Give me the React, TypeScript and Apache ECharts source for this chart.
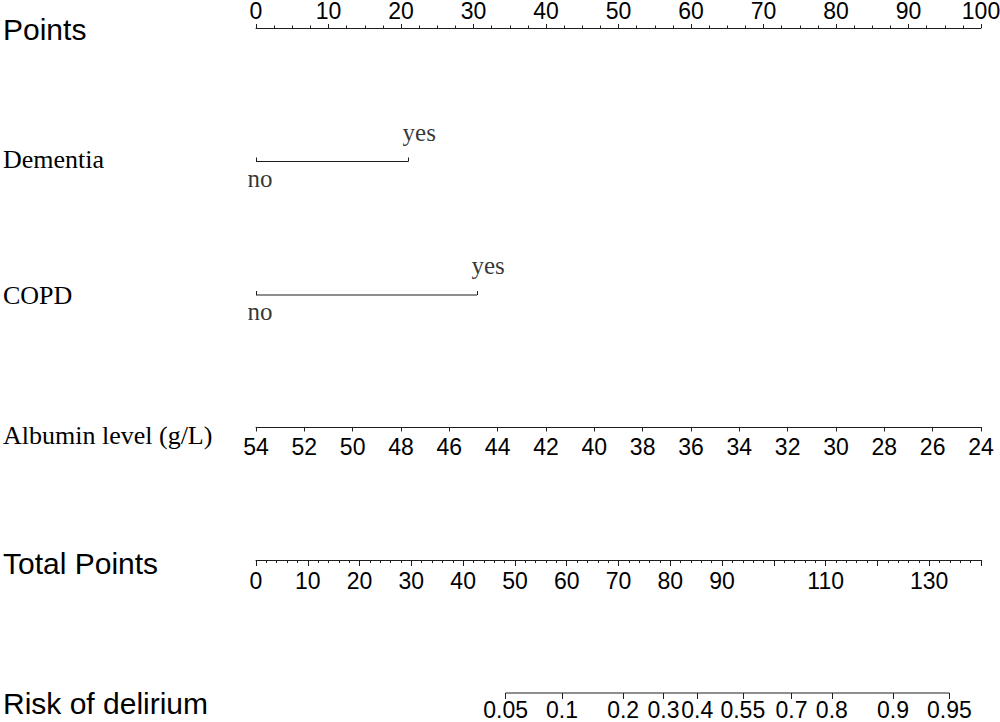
import React, { useEffect, useRef } from 'react';
import * as echarts from 'echarts';

// ---- data ----
const rowTitles = ['Points', 'Dementia', 'COPD', 'Albumin level (g/L)', 'Total Points', 'Risk of delirium'];
const pointsMin = 0;
const pointsMax = 100;
const pointsStep = 10;
const dementiaLevels = ['no', 'yes'];
const dementiaPoints = [0, 21];
const copdLevels = ['no', 'yes'];
const copdPoints = [0, 30.5];
const albuminMin = 24;
const albuminMax = 54;
const albuminStep = 2;
const totalMin = 0;
const totalMax = 140;
const totalStep = 10;
const totalHiddenLabels = [100, 120, 140];
const riskLabels = ['0.05', '0.1', '0.2', '0.3', '0.4', '0.55', '0.7', '0.8', '0.9', '0.95'];
const riskTotalPoints = [48.2, 59.1, 70.9, 78.7, 85.2, 94.0, 103.4, 111.2, 123.0, 133.9];

// ---- layout / style ----
const SANS = '"Liberation Sans", Arial, sans-serif';
const SERIF = '"Liberation Serif", "Times New Roman", serif';
const INK = '#1e1e1e';
const GRID_LEFT = 256;
const GRID_RIGHT = 19;
const H = 10;
const lineYs = [28, 161.5, 295, 427, 560, 693];
const titleYs = [29, 159, 295.5, 435, 563, 703];
const titleFonts = [
  { f: SANS, s: 30 },
  { f: SERIF, s: 26 },
  { f: SERIF, s: 26 },
  { f: SERIF, s: 26 },
  { f: SANS, s: 30 },
  { f: SANS, s: 30 },
];

const lineStyle = { color: INK, width: 1 };
const labelBase = { fontFamily: SANS, fontSize: 23, color: '#000', hideOverlap: false };

function buildOption() {
  const grids = lineYs.map((y, i) => ({
    left: GRID_LEFT,
    right: GRID_RIGHT,
    top: i === 0 ? y : y - H,
    height: H,
    containLabel: false,
    outerBoundsMode: 'none',
  }));
  const yAxes = lineYs.map((_, i) => ({ gridIndex: i, type: 'value', min: 0, max: 1, show: false }));

  const xAxes: any[] = [
    {
      gridIndex: 0, type: 'value', position: 'top', min: pointsMin, max: pointsMax, interval: pointsStep,
      axisLine: { show: true, onZero: false, lineStyle },
      axisTick: { show: true, length: 4, lineStyle },
      minorTick: { show: true, splitNumber: 4, length: 2.5, lineStyle },
      axisLabel: { ...labelBase, margin: 9, lineHeight: 17, interval: 0 },
      splitLine: { show: false },
    },
    {
      gridIndex: 1, type: 'value', min: pointsMin, max: pointsMax,
      axisLine: { show: false, onZero: false },
      axisTick: { show: true, inside: true, length: 4, lineStyle, customValues: dementiaPoints },
      axisLabel: { show: false },
      splitLine: { show: false },
    },
    {
      gridIndex: 2, type: 'value', min: pointsMin, max: pointsMax,
      axisLine: { show: false, onZero: false },
      axisTick: { show: true, inside: true, length: 4, lineStyle, customValues: copdPoints },
      axisLabel: { show: false },
      splitLine: { show: false },
    },
    {
      gridIndex: 3, type: 'value', min: albuminMin, max: albuminMax, interval: albuminStep, inverse: true,
      axisLine: { show: true, onZero: false, lineStyle },
      axisTick: { show: true, length: 4.5, lineStyle },
      axisLabel: { ...labelBase, margin: 8, interval: 0 },
      splitLine: { show: false },
    },
    {
      gridIndex: 4, type: 'value', min: totalMin, max: totalMax, interval: totalStep,
      axisLine: { show: true, onZero: false, lineStyle },
      axisTick: { show: true, length: 6, lineStyle },
      minorTick: { show: true, splitNumber: 5, length: 3, lineStyle },
      axisLabel: {
        ...labelBase, margin: 9, interval: 0,
        formatter: (v: number) => (totalHiddenLabels.includes(Math.round(v)) ? '' : String(v)),
      },
      splitLine: { show: false },
    },
    {
      gridIndex: 5, type: 'value', min: totalMin, max: totalMax,
      axisLine: { show: false, onZero: false },
      axisTick: { show: true, length: 6, lineStyle, customValues: riskTotalPoints },
      axisLabel: {
        ...labelBase, margin: 8, lineHeight: 17, customValues: riskTotalPoints,
        formatter: (v: number) => {
          let best = 0;
          riskTotalPoints.forEach((p, i) => {
            if (Math.abs(p - v) < Math.abs(riskTotalPoints[best] - v)) best = i;
          });
          return riskLabels[best];
        },
      },
      splitLine: { show: false },
    },
  ];

  const segment = (idx: number, xs: number[]) => ({
    type: 'line', xAxisIndex: idx, yAxisIndex: idx, silent: true, clip: false,
    data: [[xs[0], 0], [xs[xs.length - 1], 0]],
    symbol: 'none', lineStyle,
  });
  const levelLabels = (idx: number, levels: string[], pts: number[]) => ({
    type: 'scatter', xAxisIndex: idx, yAxisIndex: idx, silent: true, clip: false,
    symbolSize: 0,
    data: levels.map((name, i) => ({
      name,
      value: [pts[i], 0],
      label: i === 0
        ? { position: 'bottom', distance: 4, offset: [4, 0] }
        : { position: 'top', distance: 17, offset: [11, 0] },
    })),
    label: { show: true, formatter: '{b}', fontFamily: SERIF, fontSize: 25, color: '#000' },
  });

  const series: any[] = [
    segment(1, dementiaPoints),
    levelLabels(1, dementiaLevels, dementiaPoints),
    segment(2, copdPoints),
    levelLabels(2, copdLevels, copdPoints),
    segment(5, riskTotalPoints),
  ];

  const graphic = rowTitles.map((t, i) => ({
    type: 'text', x: 3, y: titleYs[i], silent: true,
    style: { text: t, fontFamily: titleFonts[i].f, fontSize: titleFonts[i].s, fill: '#000', align: 'left', verticalAlign: 'middle' },
  }));

  return {
    animation: false,
    backgroundColor: '#fff',
    grid: grids,
    xAxis: xAxes,
    yAxis: yAxes,
    series,
    graphic,
  };
}

export default function App() {
  const ref = useRef<HTMLDivElement>(null);
  useEffect(() => {
    if (!ref.current) return;
    const chart = echarts.init(ref.current, undefined, { renderer: 'svg' });
    chart.setOption(buildOption() as any);
    return () => chart.dispose();
  }, []);
  return <div ref={ref} style={{ position: 'absolute', left: 0, top: 0, width: 1000, height: 722 }} />;
}
